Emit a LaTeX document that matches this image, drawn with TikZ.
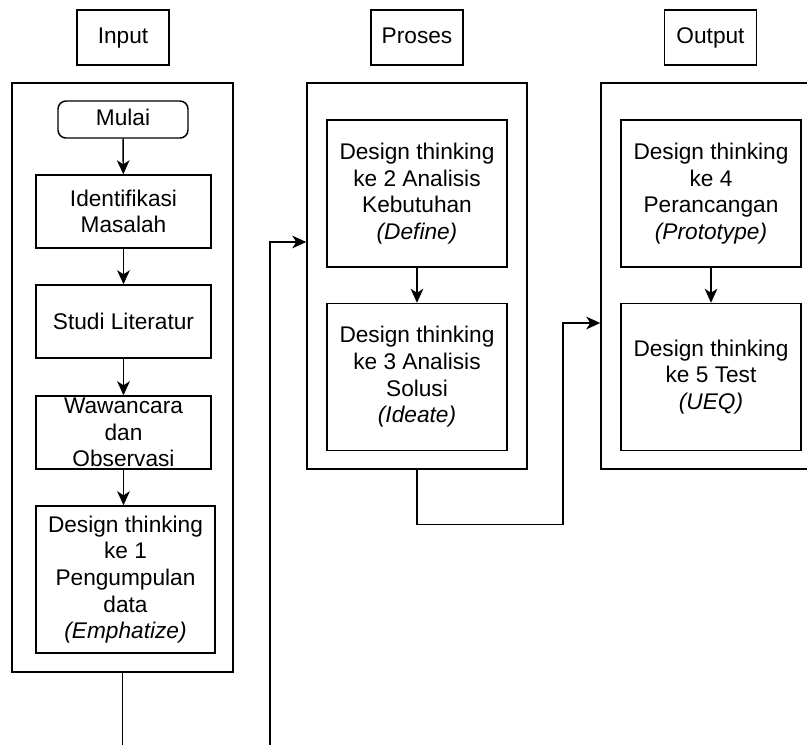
\documentclass[tikz,border=0pt]{standalone}
\usepackage{fontspec}
\setmainfont{Liberation Sans}
\usetikzlibrary{arrows.meta}

\begin{document}
\begin{tikzpicture}[x=0.75pt,y=-0.75pt,
    every node/.style={font=\fontsize{17}{20}\selectfont, align=center},
    box/.style={draw, line width=1.1pt, inner sep=0pt},
    lbl/.style={box, minimum width=69pt, minimum height=41.25pt, text height=12.5pt, text depth=3.5pt},
    cont/.style={box, minimum width=165pt, minimum height=289.5pt},
    stepbox/.style={box, minimum width=131.25pt, minimum height=54.75pt},
    dtbox/.style={box, minimum width=135pt, minimum height=110.25pt},
    arr/.style={-{Stealth[length=10.5pt,width=9.5pt,inset=3pt]}, line width=1.1pt},
    lin/.style={line width=1.1pt}]
      \clip (0,0) rectangle (807,744);

      \node[lbl] (inlbl) at (123,37.5) {Input};
      \node[lbl] (prlbl) at (417,37.5) {Proses};
      \node[lbl] (outlbl) at (710.5,37.5) {Output};

      \node[box, minimum width=165.75pt, minimum height=441.75pt] (incont) at (122.5,377.5) {};
      \node[cont] (prcont) at (417,276) {};
      \node[cont] (outcont) at (711,276) {};

      \node[box, rounded corners=6pt, minimum width=97.5pt, minimum height=27.75pt,
        text height=12.5pt, text depth=3.5pt] (mulai) at (123,119.5) {Mulai};
      \node[stepbox] (ident) at (123.5,211.5) {Identifikasi\\Masalah};
      \node[stepbox] (studi) at (123.5,321.5) {Studi Literatur};
      \node[stepbox] (wawan) at (123.5,432.5) {Wawancara\\dan\\Observasi};
      \node[dtbox, minimum width=134.25pt] (dt1) at (125.5,579.5)
        {Design thinking\\ke 1\\Pengumpulan\\data\\\textit{(Emphatize)}};

      \node[dtbox] (dt2) at (417,193.5)
        {Design thinking\\ke 2 Analisis\\Kebutuhan\\\textit{(Define)}};
      \node[dtbox] (dt3) at (417,377)
        {Design thinking\\ke 3 Analisis\\Solusi\\\textit{(Ideate)}};

      \node[dtbox] (dt4) at (711,193.5)
        {Design thinking\\ke 4\\Perancangan\\\textit{(Prototype)}};
      \node[dtbox] (dt5) at (711,377)
        {Design thinking\\ke 5 Test\\\textit{(UEQ)}};

      \draw[arr] (mulai) -- (ident);
      \draw[arr] (ident) -- (studi);
      \draw[arr] (studi) -- (wawan);
      \draw[arr] (wawan.south) -- (wawan.south |- dt1.north);
      \draw[arr] (dt2) -- (dt3);
      \draw[arr] (dt4) -- (dt5);

      \coordinate (inend) at (124,760);
      \coordinate (lpbot) at (270,760);
      \coordinate (lptop) at (270,242);
      \coordinate (turn) at (563,323);

      \draw[lin] (incont.south) -- (incont.south |- inend);
      \draw[arr] (lpbot) -- (lptop) -- (lptop -| prcont.west);
      \draw[arr] (prcont.south) -- ++(0,55) -| (turn) -- (turn -| outcont.west);
\end{tikzpicture}
\end{document}
